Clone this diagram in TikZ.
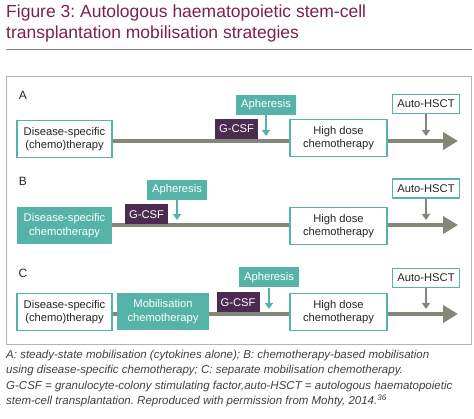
\documentclass[tikz,border=0pt]{standalone}
\usepackage{fontspec}
\setmainfont{Liberation Sans}
\frenchspacing
\usetikzlibrary{arrows.meta}
\definecolor{tealfill}{HTML}{55B4A7}
\definecolor{gcsfpurple}{HTML}{4B2B50}
\definecolor{linegray}{HTML}{85867A}
\definecolor{titlered}{HTML}{7B2150}
\definecolor{captiongray}{HTML}{404040}
\definecolor{framegray}{HTML}{B4B4B4}
\tikzset{
        boxfont/.style={font=\fontsize{11.2}{13.5}\selectfont},
        outlinebox/.style={boxfont, draw=tealfill, line width=1.3pt, fill=white, text=black!85, align=center, inner sep=0pt, minimum width=95pt, minimum height=37pt},
        filledbox/.style={boxfont, fill=tealfill, text=white, align=center, inner sep=0pt, minimum width=95pt, minimum height=37pt},
        gcsfbox/.style={boxfont, fill=gcsfpurple, text=white, inner sep=0pt, minimum width=43pt, minimum height=20pt},
        apheresisbox/.style={boxfont, fill=tealfill, text=white, inner sep=0pt, minimum width=60pt, minimum height=20pt},
        hsctbox/.style={boxfont, draw=tealfill, line width=1.3pt, fill=white, text=black!85, inner sep=0pt, minimum width=67pt, minimum height=19pt},
        timeline/.style={linegray, line width=4pt},
        timearrow/.style={timeline, -{Triangle[length=15pt, width=17pt]}},
        tealdrop/.style={tealfill, line width=1.4pt, -{Triangle[length=6pt, width=8pt]}, shorten >=5pt},
        graydrop/.style={linegray, line width=1.4pt, -{Triangle[length=6pt, width=8pt]}, shorten >=5pt},
        rowlabel/.style={font=\fontsize{12}{14}\selectfont, text=black!85}
}
\begin{document}
\begin{tikzpicture}[x=1pt, y=-1pt]
        \useasboundingbox (0,0) rectangle (474,419);
        \node[anchor=north west, align=left, text=titlered, inner sep=0pt, font=\fontsize{17.5}{20.5}\selectfont] (title) at (6,5) {Figure 3: Autologous haematopoietic stem-cell\\transplantation mobilisation strategies};
        \draw[gray, line width=1pt] (6,50) -- (472,50);
        \draw[framegray, line width=0.8pt] (6,76) rectangle (471,344);
        \foreach \lab/\y in {A/95, B/181, C/273} {
                \node[rowlabel] (label\lab) at (23,\y) {\lab};
            }

        % A
        \coordinate (endA) at (458,141);
        \node[outlinebox] (dA) at (64.5,139) {Disease-specific\\(chemo)therapy};
        \node[outlinebox, minimum width=97pt] (hA) at (338.5,138) {High dose\\chemotherapy};
        \draw[timeline] (dA.east |- endA) -- (hA.west |- endA);
        \draw[timearrow] (hA.east |- endA) -- (endA);
        \node[gcsfbox] (gA) at (236.5,129) {G-CSF};
        \node[apheresisbox] (aA) at (266,105) {Apheresis};
        \node[hsctbox] (uA) at (426,104) {Auto-HSCT};
        \draw[tealdrop] (aA.south) -- (aA.south |- endA);
        \draw[graydrop] (uA.south) -- (uA.south |- endA);

        % B
        \coordinate (endB) at (458,225);
        \node[filledbox] (dB) at (64.5,225.5) {Disease-specific\\chemotherapy};
        \node[outlinebox, minimum width=97pt] (hB) at (338.5,226) {High dose\\chemotherapy};
        \draw[timeline] (dB.east |- endB) -- (hB.west |- endB);
        \draw[timearrow] (hB.east |- endB) -- (endB);
        \node[gcsfbox] (gB) at (146.5,214.5) {G-CSF};
        \node[apheresisbox] (aB) at (177,190) {Apheresis};
        \node[hsctbox] (uB) at (426,188.5) {Auto-HSCT};
        \draw[tealdrop] (aB.south) -- (aB.south |- endB);
        \draw[graydrop] (uB.south) -- (uB.south |- endB);

        % C
        \coordinate (endC) at (458,314);
        \node[outlinebox] (dC) at (64.5,312) {Disease-specific\\(chemo)therapy};
        \node[filledbox, minimum width=92pt] (mC) at (163,311.5) {Mobilisation\\chemotherapy};
        \node[outlinebox, minimum width=97pt] (hC) at (338.5,312) {High dose\\chemotherapy};
        \draw[timeline] (dC.east |- endC) -- (mC.west |- endC);
        \draw[timeline] (mC.east |- endC) -- (hC.west |- endC);
        \draw[timearrow] (hC.east |- endC) -- (endC);
        \node[gcsfbox] (gC) at (238,302.5) {G-CSF};
        \node[apheresisbox] (aC) at (269,277.5) {Apheresis};
        \node[hsctbox] (uC) at (426,278) {Auto-HSCT};
        \draw[tealdrop] (aC.south) -- (aC.south |- endC);
        \draw[graydrop] (uC.south) -- (uC.south |- endC);

        \node[anchor=north west, align=left, inner sep=0pt, text=captiongray, font=\fontsize{11.5}{15.4}\selectfont\itshape] (caption) at (6,350) {A: steady-state mobilisation (cytokines alone); B: chemotherapy-based mobilisation\\using disease-specific chemotherapy; C: separate mobilisation chemotherapy.\\G-CSF = granulocyte-colony stimulating factor,auto-HSCT = autologous haematopoietic\\stem-cell transplantation. Reproduced with permission from Mohty, 2014.\textsuperscript{36}};
    \end{tikzpicture}
\end{document}
